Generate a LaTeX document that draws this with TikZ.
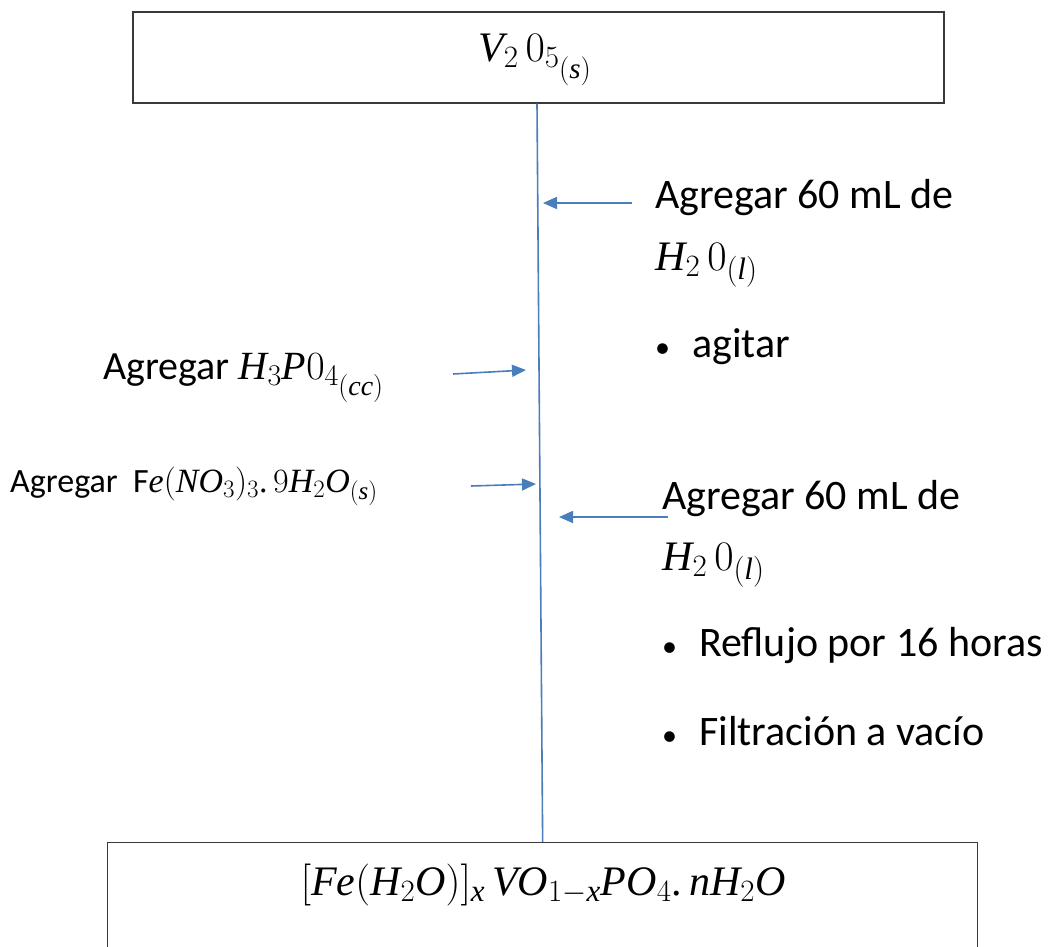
\RequirePackage{fix-cm}
\documentclass[tikz,border=0pt]{standalone}
\usepackage{fontspec}
\setmainfont{Carlito}
\newfontfamily\serfam{Liberation Serif}[NFSSFamily=libser]
\DeclareSymbolFont{letters}{TU}{libser}{m}{it}
\DeclareSymbolFont{serup}{TU}{libser}{m}{n}
\DeclareMathSymbol{0}{\mathalpha}{serup}{`0}
\DeclareMathSymbol{1}{\mathalpha}{serup}{`1}
\DeclareMathSymbol{2}{\mathalpha}{serup}{`2}
\DeclareMathSymbol{3}{\mathalpha}{serup}{`3}
\DeclareMathSymbol{4}{\mathalpha}{serup}{`4}
\DeclareMathSymbol{5}{\mathalpha}{serup}{`5}
\DeclareMathSymbol{9}{\mathalpha}{serup}{`9}
\DeclareMathSymbol{.}{\mathord}{serup}{`.}
\DeclareMathDelimiter{(}{\mathopen}{serup}{`(}{largesymbols}{"00}
\DeclareMathDelimiter{)}{\mathclose}{serup}{`)}{largesymbols}{"01}
\DeclareMathDelimiter{[}{\mathopen}{serup}{`[}{largesymbols}{"02}
\DeclareMathDelimiter{]}{\mathclose}{serup}{`]}{largesymbols}{"03}
\DeclareMathSizes{42}{42}{31}{29}
\DeclareMathSizes{40}{40}{30}{28}
\DeclareMathSizes{34}{34}{25}{23}
\usetikzlibrary{arrows.meta}
\definecolor{flowblue}{HTML}{4A7EBB}
\definecolor{boxgray}{HTML}{3A3A3A}
\tikzset{
  box/.style={draw=boxgray, line width=1.3pt, inner sep=0pt},
  flow/.style={draw=flowblue, line width=1.6pt},
  feed/.style={draw=flowblue, line width=1.6pt, -{Triangle[length=14pt,width=12pt]}},
  big/.style={font=\fontsize{42}{50}\selectfont, inner sep=0pt},
  mid/.style={font=\fontsize{40}{48}\selectfont, inner sep=0pt},
  small/.style={font=\fontsize{34}{40}\selectfont, inner sep=0pt},
}
\newcommand{\bul}{{\fontsize{30}{30}\selectfont\textbullet}\hspace{22pt}}
\begin{document}
\begin{tikzpicture}[x=1pt,y=-1pt]
\useasboundingbox (0,0) rectangle (1052,946);
% boxes
\node[box, minimum width=811, minimum height=91] (v2o5) at (538.5,57.5) {};
\node[big] (v2o5t) at (535,60) {$V_2\,0_{5_{(s)}}$};
\node[box, anchor=north west, minimum width=870, minimum height=140] (prod) at (107,842) {};
\node[big] (prodt) at (543,885) {$[Fe(H_2O)]_x\,VO_{1-x}PO_4.\,nH_2O$};
% main line
\draw[flow] ([xshift=-1.5]v2o5.south) -- (prod.north);
% points on the line
\coordinate (p1) at (543,203);
\coordinate (p2) at (526,370);
\coordinate (p3) at (536,484);
\coordinate (p4) at (559,517);
% right block 1
\node[big, anchor=west] (r1a) at (655,198) {Agregar 60 mL de};
\node[big, anchor=west] (r1b) at (655,265) {$H_2\,0_{(l)}$};
\node[big, anchor=west] (r1c) at (655,347) {\bul agitar};
\coordinate (s1) at (632,203);
\draw[feed] (s1) -- (p1);
% left block 2
\node[mid, anchor=west] (l2) at (103,378) {Agregar $H_3P0_{4_{(cc)}}$};
\coordinate (s2) at (453,374);
\draw[feed] (s2) -- (p2);
% left block 3
\node[small, anchor=west] (l3) at (10,486) {Agregar\ \ F$e(NO_3)_3.\,9H_2O_{(s)}$};
\coordinate (s3) at (471,486);
\draw[feed] (s3) -- (p3);
% right block 4
\node[big, anchor=west] (r4a) at (662,499) {Agregar 60 mL de};
\node[big, anchor=west] (r4b) at (662,565) {$H_2\,0_{(l)}$};
\node[big, anchor=west] (r4c) at (662,646) {\bul Reflujo por 16 horas};
\node[big, anchor=west] (r4d) at (662,731) {\bul Filtración a vacío};
\coordinate (s4) at (668,517);
\draw[feed] (s4) -- (p4);
\end{tikzpicture}
\end{document}
